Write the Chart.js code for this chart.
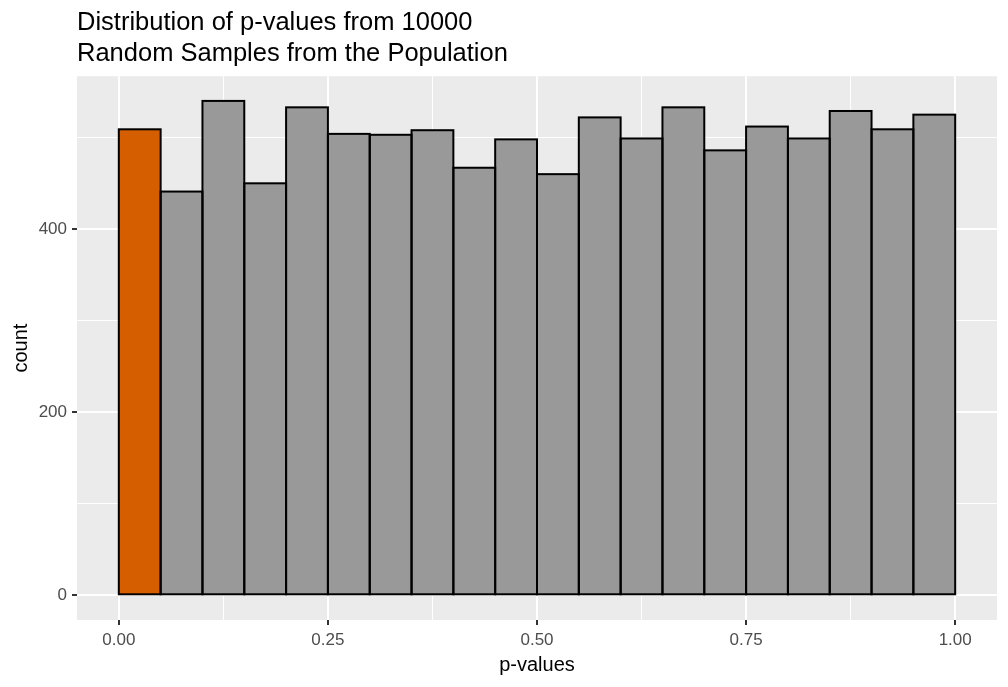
<!DOCTYPE html>
<html>
<head>
<meta charset="utf-8">
<script src="https://cdn.jsdelivr.net/npm/chart.js@4/dist/chart.umd.min.js"></script>
<style>
  html, body { margin: 0; padding: 0; background: #fff; }
  #wrap { width: 1008px; height: 687px; }
</style>
</head>
<body>
<div id="wrap"><canvas id="chart-pvalues"></canvas></div>
<script>
// histogram bins (centres of 0.05 wide bins) and counts
var binMids = [0.025, 0.075, 0.125, 0.175, 0.225, 0.275, 0.325, 0.375, 0.425, 0.475,
               0.525, 0.575, 0.625, 0.675, 0.725, 0.775, 0.825, 0.875, 0.925, 0.975];
var counts = [509, 441, 540, 450, 533, 504, 503, 508, 467, 498,
              460, 522, 499, 533, 486, 512, 499, 529, 509, 525];
var xMajor = [0, 0.25, 0.5, 0.75, 1];
var xMinor = [0.125, 0.375, 0.625, 0.875];
var yMajor = [0, 200, 400];
var yMinor = [100, 300, 500];
var titleLines = ['Distribution of p-values from 10000', 'Random Samples from the Population'];

var FONT = "'Liberation Sans', Arial, sans-serif";

function isMajor(v, list) {
    for (var i = 0; i < list.length; i++) {
        if (Math.abs(list[i] - v) < 1e-9) return true;
    }
    return false;
}
function tickIsMajor(ctx, list) {
    return !!(ctx && ctx.tick) && isMajor(ctx.tick.value, list);
}
function mergeTicks(a, b) {
    return a.concat(b).sort(function (p, q) { return p - q; }).map(function (v) { return { value: v }; });
}

var points = binMids.map(function (m, i) { return { x: m, y: counts[i] }; });

// grey panel behind everything
var panelBg = {
    id: 'panelBg',
    beforeDraw: function (chart) {
        var a = chart.chartArea, c = chart.ctx;
        c.save();
        c.fillStyle = '#EBEBEB';
        c.fillRect(a.left, a.top, a.right - a.left, a.bottom - a.top);
        c.restore();
    }
};

// ggplot style outlines: centred on the bar edges so neighbours share one line
var barOutline = {
    id: 'barOutline',
    afterDatasetsDraw: function (chart) {
        var c = chart.ctx;
        c.save();
        c.strokeStyle = '#000';
        c.lineWidth = 2;
        chart.getDatasetMeta(0).data.forEach(function (bar) {
            var p = bar.getProps(['x', 'y', 'base', 'width'], true);
            c.strokeRect(p.x - p.width / 2, p.y, p.width, p.base - p.y);
        });
        c.restore();
    }
};

var config = {
    type: 'bar',
    data: {
        datasets: [{
            data: points,
            backgroundColor: function (ctx) { return ctx.dataIndex === 0 ? '#D55E00' : '#999999'; },
            borderWidth: 0,
            barPercentage: 1,
            categoryPercentage: 1,
            inflateAmount: 0
        }]
    },
    options: {
        responsive: true,
        maintainAspectRatio: false,
        animation: false,
        layout: { padding: { left: 0, right: 11, top: 0, bottom: 0 } },
        plugins: {
            legend: { display: false },
            tooltip: { enabled: false },
            title: {
                display: true,
                text: titleLines,
                align: 'start',
                fullSize: false,
                color: '#000',
                font: { family: FONT, size: 25.5, weight: 'normal', lineHeight: 1.2 },
                padding: { top: 8, bottom: 7 }
            }
        },
        scales: {
            x: {
                type: 'linear',
                offset: false,
                min: -0.05,
                max: 1.05,
                afterBuildTicks: function (scale) { scale.ticks = mergeTicks(xMajor, xMinor); },
                afterFit: function (scale) { scale.height = 67; },
                border: { display: false },
                grid: {
                    offset: false,
                    color: '#FFFFFF',
                    lineWidth: function (ctx) { return tickIsMajor(ctx, xMajor) ? 2 : 1; },
                    tickColor: function (ctx) { return tickIsMajor(ctx, xMajor) ? '#333333' : 'rgba(0,0,0,0)'; },
                    tickLength: 5,
                    tickWidth: 2
                },
                ticks: {
                    autoSkip: false,
                    maxRotation: 0,
                    padding: 5,
                    color: '#4D4D4D',
                    font: { family: FONT, size: 17 },
                    callback: function (v) { return isMajor(v, xMajor) ? v.toFixed(2) : ''; }
                },
                title: {
                    display: true,
                    text: 'p-values',
                    color: '#000',
                    font: { family: FONT, size: 20 },
                    padding: { top: 0, bottom: 10 }
                }
            },
            y: {
                min: -27,
                max: 567,
                afterBuildTicks: function (scale) { scale.ticks = mergeTicks(yMajor, yMinor); },
                afterFit: function (scale) { scale.width = 77; },
                border: { display: false },
                grid: {
                    color: '#FFFFFF',
                    lineWidth: function (ctx) { return tickIsMajor(ctx, yMajor) ? 2 : 1; },
                    tickColor: function (ctx) { return tickIsMajor(ctx, yMajor) ? '#333333' : 'rgba(0,0,0,0)'; },
                    tickLength: 5,
                    tickWidth: 2
                },
                ticks: {
                    autoSkip: false,
                    padding: 5,
                    color: '#4D4D4D',
                    font: { family: FONT, size: 17 },
                    callback: function (v) { return isMajor(v, yMajor) ? String(v) : ''; }
                },
                title: {
                    display: true,
                    text: 'count',
                    color: '#000',
                    font: { family: FONT, size: 20 },
                    padding: { top: 9, bottom: 0 }
                }
            }
        }
    },
    plugins: [panelBg, barOutline]
};

window.onload = function () {
    var ctx = document.getElementById('chart-pvalues').getContext('2d');
    window.pvalChart = new Chart(ctx, config);
};
</script>
</body>
</html>
